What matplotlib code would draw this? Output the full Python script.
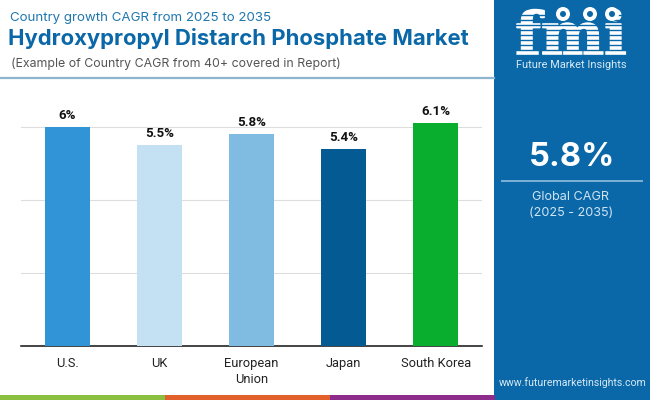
import matplotlib
matplotlib.use("Agg")
import matplotlib.pyplot as plt
import matplotlib.patheffects as pe
from matplotlib.patches import Rectangle, Circle

countries = ["U.S.", "UK", "European\nUnion", "Japan", "South Korea"]
cagr = [6.0, 5.5, 5.8, 5.4, 6.1]
bar_labels = ["6%", "5.5%", "5.8%", "5.4%", "6.1%"]
bar_colors = ["#3194D6", "#C3E1F2", "#80BCE2", "#045A92", "#09AE2F"]
grid_ticks = [0, 2, 4, 6]

W, H = 650, 400
PANEL = "#0A68A8"

fig = plt.figure(figsize=(6.5, 4.0), dpi=100, facecolor="white")

# full figure overlay in pixel coords, y pointing down
bg = fig.add_axes([0, 0, 1, 1])
bg.set_xlim(0, W)
bg.set_ylim(H, 0)
bg.axis("off")

bg.add_patch(Rectangle((494, 0), 156, 400, color=PANEL, lw=0))
bg.plot([0, 494], [78, 78], color="#8DB5CF", lw=1.6)
bg.add_patch(Rectangle((0, 395), 165, 5, color="#8BBF40", lw=0))
bg.add_patch(Rectangle((165, 395), 165, 5, color="#E2602C", lw=0))
bg.add_patch(Rectangle((330, 395), 165, 5, color="#8E2C8C", lw=0))

bg.text(10, 17.5, "Country growth CAGR from 2025 to 2035", fontsize=9.6,
        family="Inter", color="#1F77AE", va="center")
bg.text(8, 38.5, "Hydroxypropyl Distarch Phosphate Market", fontsize=15.9,
        family="Inter", weight="bold", color="#0A68A8", va="center")
bg.text(11, 64, "(Example of Country CAGR from 40+ covered in Report)", fontsize=8.9,
        family="Inter", color="#555555", va="center")

# logo, striped letters
logo = bg.text(571, 55, "fmi", fontsize=43, family="DejaVu Serif", weight="bold", color="white",
               ha="center", va="baseline")
logo.set_path_effects([pe.withStroke(linewidth=1.2, foreground="white")])
for y in range(15, 58, 5):
    bg.plot([510, 632], [y, y], color=PANEL, lw=1.0, zorder=4)
for x, y in [(563, 14), (590, 14), (612, 14)]:
    bg.add_patch(Circle((x, y), 7, color="white", lw=0, zorder=5))
    bg.add_patch(Circle((x, y), 3, color=PANEL, lw=0, zorder=6))
bg.text(571.5, 65, "Future Market Insights", fontsize=7.9, family="Roboto", color="#D6E9F5",
        ha="center", va="center")

bg.text(572, 157, "5.8%", fontsize=23.5, family="Inter", weight="bold", color="white",
        ha="center", va="center")
bg.plot([502, 642], [181, 181], color="#7FB3D8", lw=1.4)
bg.text(571, 197, "Global CAGR", fontsize=9.1, family="Inter", color="#CFE4F2",
        ha="center", va="center")
bg.text(571, 213, "(2025 - 2035)", fontsize=9.1, family="Inter", color="#CFE4F2",
        ha="center", va="center")
bg.text(572.5, 383, "www.futuremarketinsights.com", fontsize=7.6, family="Roboto",
        color="#D6E9F5", ha="center", va="center")

# bar chart, 36.5 px per percentage point
ax = fig.add_axes([21 / W, (H - 346) / H, 461 / W, 246 / H])
ax.patch.set_alpha(0)
ax.set_xlim(-0.503, 4.5)
ax.set_ylim(0, 246 / 36.5)
ax.bar(range(len(cagr)), cagr, width=0.487, color=bar_colors, zorder=3)
for i, (v, lab) in enumerate(zip(cagr, bar_labels)):
    ax.annotate(lab, (i, v), xytext=(0, 3.8), textcoords="offset points", ha="center", va="bottom",
                fontsize=9.6, family="Roboto", weight="bold", color="#111111")
ax.set_yticks(grid_ticks)
ax.set_yticklabels([])
ax.grid(axis="y", color="#DDDDDD", lw=0.8, zorder=0)
ax.tick_params(axis="both", length=0)
ax.set_xticks(range(len(cagr)))
ax.set_xticklabels(countries, fontsize=9.3, family="Roboto", color="#222222", linespacing=1.25)
ax.tick_params(axis="x", pad=8)
for s in ["top", "left", "right"]:
    ax.spines[s].set_visible(False)
ax.spines["bottom"].set_color("#111111")
ax.spines["bottom"].set_linewidth(1.1)

fig.savefig("out.png", dpi=100)
